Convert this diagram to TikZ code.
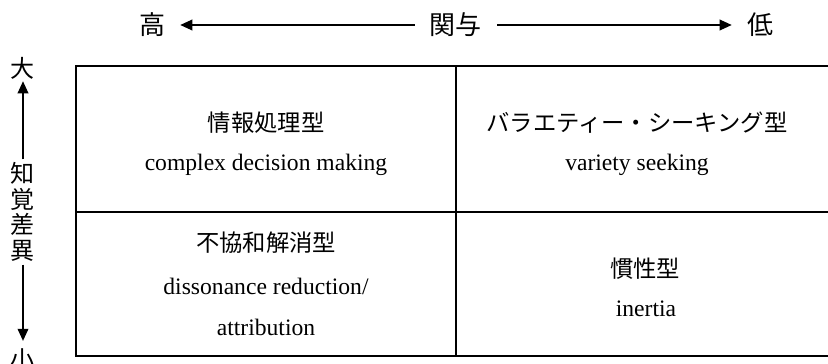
\documentclass[tikz,border=0pt]{standalone}
\usepackage{fontspec}
\setmainfont{Liberation Serif}
\newfontfamily\jp{Noto Sans CJK JP}
\usetikzlibrary{arrows.meta}
\begin{document}
\begin{tikzpicture}[x=0.75pt,y=-0.75pt,
  jptext/.style={inner sep=0pt, font=\jp\fontsize{17.5}{21}\selectfont},
  entext/.style={inner sep=0pt, anchor=base, font=\fontsize{17.7}{21}\selectfont},
  headtext/.style={inner sep=0pt, font=\jp\fontsize{19.5}{23}\selectfont},
  sidetext/.style={inner sep=0pt, align=center, font=\jp\fontsize{18}{19.3}\selectfont},
  axisarrow/.style={line width=1pt, -{Triangle[length=9pt,width=8pt]}},
  frameline/.style={line width=1.5pt}]
\useasboundingbox (0,0) rectangle (828,364);
% frame
\draw[frameline] (76,66) rectangle (832,356);
\draw[frameline] (456,66) -- (456,356);
\draw[frameline] (76,212) -- (832,212);
% header axis
\node[headtext] (hi) at (152,25) {高};
\node[headtext] (kanyo) at (455,25) {関与};
\node[headtext] (lo) at (760,25) {低};
\draw[axisarrow, shorten <=10.5pt, shorten >=11.25pt] (kanyo.west) -- (hi.east);
\draw[axisarrow, shorten <=12pt, shorten >=11.25pt] (kanyo.east) -- (lo.west);
% side axis
\node[sidetext] (big) at (23,68) {大};
\node[sidetext] (pd) at (23,212) {知\\覚\\差\\異};
\node[sidetext] (small) at (23,360) {小};
\draw[axisarrow, shorten <=2pt, shorten >=1.5pt] (pd.north) -- (big.south);
\draw[axisarrow, shorten <=2pt, shorten >=6pt] (pd.south) -- (small.north);
% cells
\node[jptext] (t11) at (266,123) {情報処理型};
\node[entext] (e11) at (266,170) {complex decision making};
\node[jptext] (t12) at (637,123) {バラエティー・シーキング型};
\node[entext] (e12) at (637,170) {variety seeking};
\node[jptext] (t21) at (266,243) {不協和解消型};
\node[entext] (e21a) at (266,294) {dissonance reduction/};
\node[entext] (e21b) at (266,335) {attribution};
\node[jptext] (t22) at (645,269) {慣性型};
\node[entext] (e22) at (646,316) {inertia};
\end{tikzpicture}
\end{document}
